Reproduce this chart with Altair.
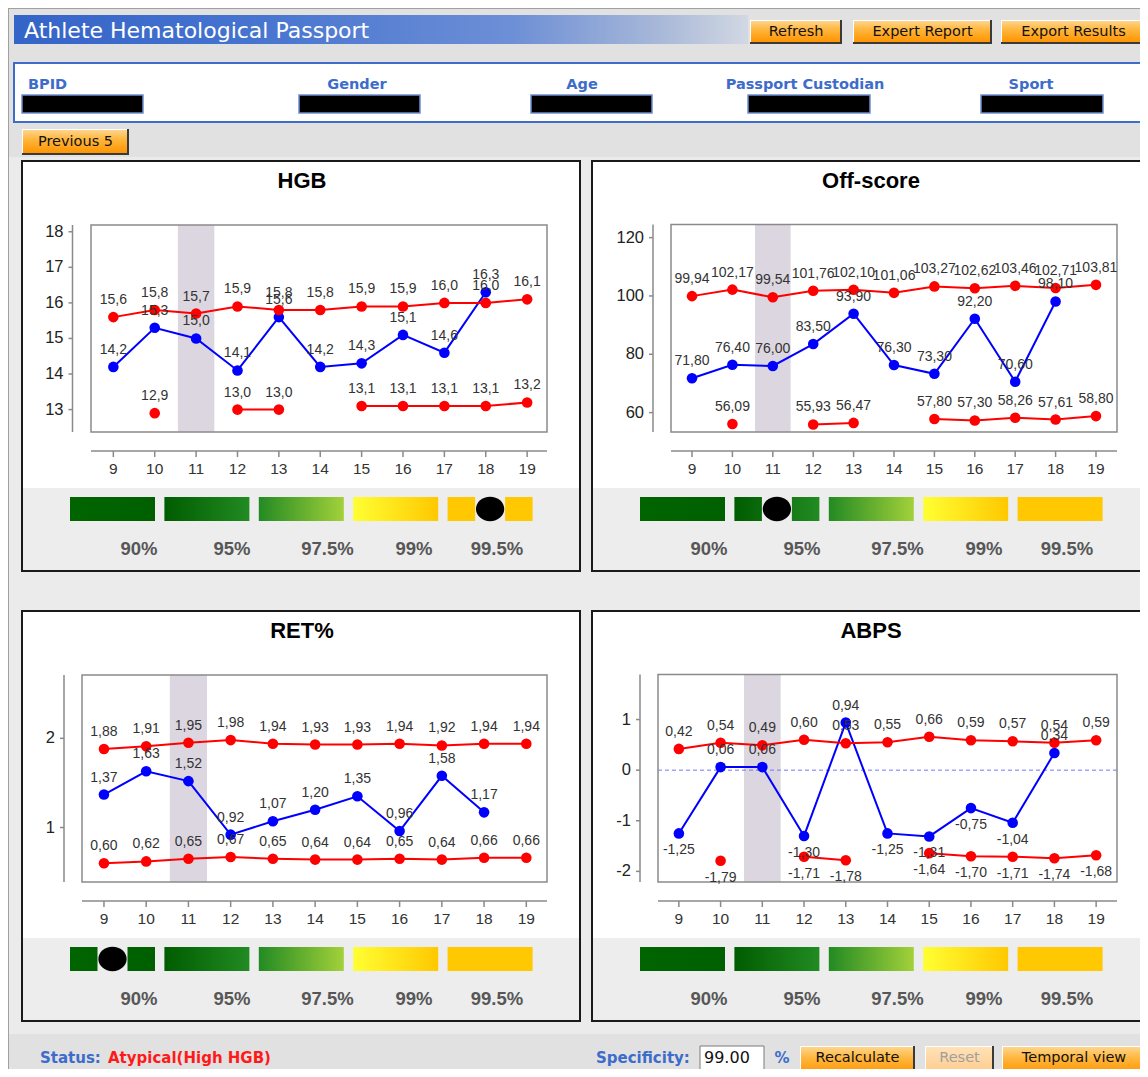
import altair as alt
import pandas as pd

# ---------------- chart values ----------------
tests = [9, 10, 11, 12, 13, 14, 15, 16, 17, 18, 19]
highlighted_test = 11

hgb_upper = [15.6, 15.8, 15.7, 15.9, 15.8, 15.8, 15.9, 15.9, 16.0, 16.0, 16.1]
hgb_values = [14.2, 15.3, 15.0, 14.1, 15.6, 14.2, 14.3, 15.1, 14.6, 16.3, None]
hgb_lower = [None, 12.9, None, 13.0, 13.0, None, 13.1, 13.1, 13.1, 13.1, 13.2]
hgb_yticks = [13, 14, 15, 16, 17, 18]

off_upper = [99.94, 102.17, 99.54, 101.76, 102.10, 101.06, 103.27, 102.62, 103.46, 102.71, 103.81]
off_values = [71.80, 76.40, 76.00, 83.50, 93.90, 76.30, 73.30, 92.20, 70.60, 98.10, None]
off_lower = [None, 56.09, None, 55.93, 56.47, None, 57.80, 57.30, 58.26, 57.61, 58.80]
off_yticks = [60, 80, 100, 120]

ret_upper = [1.88, 1.91, 1.95, 1.98, 1.94, 1.93, 1.93, 1.94, 1.92, 1.94, 1.94]
ret_values = [1.37, 1.63, 1.52, 0.92, 1.07, 1.20, 1.35, 0.96, 1.58, 1.17, None]
ret_lower = [0.60, 0.62, 0.65, 0.67, 0.65, 0.64, 0.64, 0.65, 0.64, 0.66, 0.66]
ret_yticks = [1, 2]

abps_upper = [0.42, 0.54, 0.49, 0.60, 0.53, 0.55, 0.66, 0.59, 0.57, 0.54, 0.59]
abps_values = [-1.25, 0.06, 0.06, -1.30, 0.94, -1.25, -1.31, -0.75, -1.04, 0.34, None]
abps_lower = [None, -1.79, None, -1.71, -1.78, None, -1.64, -1.70, -1.71, -1.74, -1.68]
abps_yticks = [-2, -1, 0, 1]

specificity_levels = ["90%", "95%", "97.5%", "99%", "99.5%"]
panel_titles = ["HGB", "Off-score", "RET%", "ABPS"]
panel_markers = ["99.5%", "95%", "90%", None]

page_title = "Athlete Hematological Passport"
header_buttons = ["Refresh", "Expert Report", "Export Results"]
info_fields = ["BPID", "Gender", "Age", "Passport Custodian", "Sport"]
prev_button = "Previous 5"
status_label = "Status:"
status_value = "Atypical(High HGB)"
specificity_label = "Specificity:"
specificity_value = "99.00"
footer_buttons = ["Recalculate", "Reset", "Temporal view"]

# ---------------- layout / style ----------------
M = 8
W, H = 1132, 1061


def cx(v):
    return v - M


def cy(v):
    return v - M


CHART_FONT = "Liberation Sans, Arial, sans-serif"
UI_FONT = "DejaVu Sans, Verdana, sans-serif"
RED = "#ff0000"
BLUE = "#0000ff"
UI_BLUE = "#3d6ccb"
AXIS = "#8a8a8a"
BAND = "#dcd6e0"

PANELS = [
    dict(title=panel_titles[0], upper=hgb_upper, values=hgb_values, lower=hgb_lower, yticks=hgb_yticks,
         dec=1, frame=(22, 161, 580, 571), box=(91, 225, 547, 432), yaxis_x=72.5,
         xdom=[8.46, 19.48], ydom=[12.37, 18.19], cb_x0=70, zero=False, marker=panel_markers[0]),
    dict(title=panel_titles[1], upper=off_upper, values=off_values, lower=off_lower, yticks=off_yticks,
         dec=2, frame=(592, 161, 1152, 571), box=(671, 224.5, 1117, 432), yaxis_x=653,
         xdom=[8.48, 19.52], ydom=[53.35, 124.5], cb_x0=640, zero=False, marker=panel_markers[1]),
    dict(title=panel_titles[2], upper=ret_upper, values=ret_values, lower=ret_lower, yticks=ret_yticks,
         dec=2, frame=(22, 611, 580, 1021), box=(82, 675, 547, 882), yaxis_x=64,
         xdom=[8.48, 19.49], ydom=[0.389, 2.71], cb_x0=70, zero=False, marker=panel_markers[2]),
    dict(title=panel_titles[3], upper=abps_upper, values=abps_values, lower=abps_lower, yticks=abps_yticks,
         dec=2, frame=(592, 611, 1152, 1021), box=(658, 674.5, 1117, 882), yaxis_x=640,
         xdom=[8.5, 19.5], ydom=[-2.21, 1.89], cb_x0=640, zero=True, marker=panel_markers[3]),
]
CB_STRIDE = 94.4
CB_W = 85
CB_LABEL_DX = [69, 162, 257.5, 344, 427]
FOOT_Y = 1058
FOOT_TOP = 1046

bg_rects = []
top_rects = []
grad_rects = {}
texts = {}


def add_rect(lst, x0, y0, x1, y1, fill, stroke="transparent", sw=0):
    lst.append(dict(x=cx(x0), x2=cx(x1), y=cy(y0), y2=cy(y1), fill=fill, stroke=stroke, sw=sw))


def add_grad(key, x0, y0, x1, y1):
    grad_rects.setdefault(key, []).append(dict(x=cx(x0), x2=cx(x1), y=cy(y0), y2=cy(y1)))


def add_text(key, x, y, text, color, size):
    texts.setdefault(key, []).append(dict(x=cx(x), y=cy(y), text=text, color=color, size=size))


def add_button(x0, y0, x1, y1, label, enabled=True, ty=None):
    add_rect(bg_rects, x0, y0, x1, y1, "#3a3a3a")
    add_rect(bg_rects, x0, y0, x1 - 2, y1 - 2, "#ffffff")
    add_grad("btn" if enabled else "btn_off", x0 + 1, y0 + 1, x1 - 2, y1 - 2)
    add_text("ui", (x0 + x1) / 2, ty if ty is not None else (y0 + y1) / 2, label,
             "#111111" if enabled else "#a0a0a0", 14.5)


# page frame + regions
add_rect(bg_rects, 8, 8, 1148, 9, "#a0a0a0")
add_rect(bg_rects, 8, 8, 9, 1077, "#a0a0a0")
add_rect(bg_rects, 9, 157, 1148, 1034, "#ebebeb")

# header
add_grad("title", 14, 15, 748, 44)
add_text("ui_left", 24, 30.5, page_title, "#ffffff", 22)
for (x0, x1), lab in zip([(750, 842), (853, 992), (1001, 1146)], header_buttons):
    add_button(x0, 20, x1, 44, lab)

add_rect(bg_rects, 14, 63, 1145, 122, "#ffffff", UI_BLUE, 2)
info_label_x = [28, 357, 582, 805, 1031]
info_box_x = [(22, 143), (299, 420), (531, 652), (748, 870), (981, 1103)]
for i, (f, lx, (b0, b1)) in enumerate(zip(info_fields, info_label_x, info_box_x)):
    add_text("ui_bold_left" if i == 0 else "ui_bold", lx, 85, f, UI_BLUE, 14.5)
    add_rect(bg_rects, b0, 95, b1, 113, "#000000", "#6d8fd0", 1.5)

add_button(22, 129, 129, 155, prev_button)

# footer
add_text("ui_bold_left", 40, FOOT_Y, status_label, UI_BLUE, 15)
add_text("ui_bold_left", 108, FOOT_Y, status_value, "#ff1a1a", 15)
add_text("ui_bold_left", 596, FOOT_Y, specificity_label, UI_BLUE, 15)
add_rect(bg_rects, 700, FOOT_TOP, 764, FOOT_TOP + 30, "#ffffff", "#7a7a7a", 1)
add_text("ui_left", 704, FOOT_Y, specificity_value, "#111111", 16)
add_text("ui_bold", 782, FOOT_Y, "%", UI_BLUE, 15)
for (x0, x1), lab, en in zip([(800, 915), (925, 994), (1002, 1146)], footer_buttons, [True, False, True]):
    add_button(x0, FOOT_TOP, x1, FOOT_TOP + 30, lab, en, ty=FOOT_Y)

# panels: frames, bands, plot boxes, colour bars, titles
ELLIPSE = "M-1,0A1,0.86,0,1,1,1,0A1,0.86,0,1,1,-1,0Z"
markers = []
for p in PANELS:
    fx0, fy0, fx1, fy1 = p["frame"]
    add_rect(bg_rects, fx0, fy0, fx1, fy1, "#ffffff", "#1a1a1a", 2)
    add_rect(bg_rects, fx0 + 1, fy0 + 327, fx1 - 1, fy1 - 1, "#ededed")
    bx0, by0, bx1, by1 = p["box"]
    add_rect(bg_rects, bx0, by0, bx1, by1, "#ffffff")
    add_text("chart_bold", (fx0 + min(fx1, 1148)) / 2 + 1, fy0 + 19.5, p["title"], "#000000", 22)
    for k, lev in enumerate(specificity_levels):
        x0 = p["cb_x0"] + k * CB_STRIDE
        add_grad(f"cb{k}", x0, fy0 + 336, x0 + CB_W, fy0 + 360)
        add_text("chart_bold", p["cb_x0"] + CB_LABEL_DX[k], fy0 + 388, lev, "#575757", 18.5)
        if p["marker"] == lev:
            mx = x0 + CB_W / 2
            add_rect(top_rects, mx - 15, fy0 + 336, mx + 15, fy0 + 360, "#ededed")
            markers.append(dict(x=cx(mx), y=cy(fy0 + 348)))


def grad(stops, horizontal=True):
    return alt.LinearGradient(
        gradient="linear",
        stops=[alt.GradientStop(offset=o, color=c) for o, c in stops],
        x1=0, y1=0, x2=1 if horizontal else 0, y2=0 if horizontal else 1,
    )


GRADS = {
    "title": grad([(0, "#3564c8"), (0.3, "#4472cf"), (0.68, "#6d8fd6"), (0.88, "#a8b8d8"), (1, "#d2d8e3")]),
    "btn": grad([(0, "#ffd58c"), (0.4, "#ffb73f"), (1, "#ff9400")], horizontal=False),
    "btn_off": grad([(0, "#ffe2b8"), (1, "#ffc98a")], horizontal=False),
    "cb0": grad([(0, "#006400"), (1, "#006000")]),
    "cb1": grad([(0, "#005c00"), (1, "#228b22")]),
    "cb2": grad([(0, "#238a23"), (1, "#a2d13a")]),
    "cb3": grad([(0, "#ffff33"), (1, "#ffc800")]),
    "cb4": grad([(0, "#ffc800"), (1, "#ffc800")]),
}

TEXT_STYLES = {
    "ui": dict(font=UI_FONT, fontWeight="normal", align="center"),
    "ui_left": dict(font=UI_FONT, fontWeight="normal", align="left"),
    "ui_bold": dict(font=UI_FONT, fontWeight="bold", align="center"),
    "ui_bold_left": dict(font=UI_FONT, fontWeight="bold", align="left"),
    "chart_bold": dict(font=CHART_FONT, fontWeight="bold", align="center"),
}


def pxX(f):
    return alt.X(f, scale=None, axis=None)


def pxY(f):
    return alt.Y(f, scale=None, axis=None)


def rect_layer(lst):
    return alt.Chart(pd.DataFrame(lst)).mark_rect().encode(
        x=pxX("x:Q"), x2="x2:Q", y=pxY("y:Q"), y2="y2:Q",
        fill=alt.Fill("fill:N", scale=None), stroke=alt.Stroke("stroke:N", scale=None),
        strokeWidth=alt.StrokeWidth("sw:Q", scale=None),
    )


def grad_layer(key):
    return alt.Chart(pd.DataFrame(grad_rects[key])).mark_rect(fill=GRADS[key]).encode(
        x=pxX("x:Q"), x2="x2:Q", y=pxY("y:Q"), y2="y2:Q")


def text_layer(key):
    return alt.Chart(pd.DataFrame(texts[key])).mark_text(baseline="middle", **TEXT_STYLES[key]).encode(
        x=pxX("x:Q"), y=pxY("y:Q"), text="text:N",
        color=alt.Color("color:N", scale=None), size=alt.Size("size:Q", scale=None))


def fmt(v, dec):
    return f"{v:.{dec}f}".replace(".", ",")


def panel_layer(p):
    bx0, by0, bx1, by1 = p["box"]
    xs = alt.Scale(domain=p["xdom"], range=[cx(bx0), cx(bx1)], nice=False, zero=False)
    ys = alt.Scale(domain=p["ydom"], range=[cy(by1), cy(by0)], nice=False, zero=False)

    def X(f):
        return alt.X(f, scale=xs, axis=None)

    def Y(f):
        return alt.Y(f, scale=ys, axis=None)

    one = pd.DataFrame({"k": [0]})
    band = pd.DataFrame({"t0": [highlighted_test - 0.44], "t1": [highlighted_test + 0.44]})
    rows = []
    for name, vals, col in (("value", p["values"], BLUE), ("upper", p["upper"], RED), ("lower", p["lower"], RED)):
        seg = 0
        for t, v in zip(tests, vals):
            if v is None:
                seg += 1
                continue
            rows.append(dict(t=t, v=v, series=name, col=col, seg=f"{name}-{seg}",
                             label=fmt(v, p["dec"]), side="below" if v < 0 else "above"))
    df = pd.DataFrame(rows)

    layers = [
        alt.Chart(band).mark_rect(color=BAND).encode(
            x=X("t0:Q"), x2="t1:Q", y=alt.value(cy(by0)), y2=alt.value(cy(by1))),
    ]
    if p["zero"]:
        layers.append(alt.Chart(pd.DataFrame({"z": [0]})).mark_rule(
            color="#7474ff", strokeDash=[4, 3], strokeWidth=1).encode(
            y=Y("z:Q"), x=alt.value(cx(bx0)), x2=alt.value(cx(bx1))))
    layers.append(alt.Chart(one).mark_rect(fillOpacity=0, stroke=AXIS, strokeWidth=1.5).encode(
        x=alt.value(cx(bx0)), x2=alt.value(cx(bx1)), y=alt.value(cy(by0)), y2=alt.value(cy(by1))))

    for sub in (df[df.series == "value"], df[df.series != "value"]):
        layers.append(alt.Chart(sub).mark_line(strokeWidth=2).encode(
            x=X("t:Q"), y=Y("v:Q"), detail="seg:N", color=alt.Color("col:N", scale=None)))
        layers.append(alt.Chart(sub).mark_circle(size=112, opacity=1).encode(
            x=X("t:Q"), y=Y("v:Q"), color=alt.Color("col:N", scale=None)))

    for side, dy in (("above", -17), ("below", 17)):
        sub = df[df.side == side]
        if len(sub):
            layers.append(alt.Chart(sub).mark_text(
                dy=dy, font=CHART_FONT, fontSize=14, color="#333333", baseline="middle").encode(
                x=X("t:Q"), y=Y("v:Q"), text="label:N"))

    # y axis
    ax = p["yaxis_x"]
    yt = pd.DataFrame({"v": p["yticks"], "label": [str(v) for v in p["yticks"]]})
    layers.append(alt.Chart(one).mark_rule(color=AXIS, strokeWidth=1.5).encode(
        x=alt.value(cx(ax)), y=alt.value(cy(by0)), y2=alt.value(cy(by1))))
    layers.append(alt.Chart(yt).mark_rule(color=AXIS, strokeWidth=1.5).encode(
        x=alt.value(cx(ax - 4)), x2=alt.value(cx(ax)), y=Y("v:Q")))
    layers.append(alt.Chart(yt).mark_text(
        align="right", baseline="middle", font=CHART_FONT, fontSize=16.5, color="#222222").encode(
        x=alt.value(cx(ax - 9)), y=Y("v:Q"), text="label:N"))

    # x axis
    xa = by1 + 19
    xt = pd.DataFrame({"t": tests, "label": [str(t) for t in tests]})
    layers.append(alt.Chart(one).mark_rule(color=AXIS, strokeWidth=1.5).encode(
        x=alt.value(cx(bx0)), x2=alt.value(cx(bx1)), y=alt.value(cy(xa))))
    layers.append(alt.Chart(xt).mark_rule(color=AXIS, strokeWidth=1.5).encode(
        x=X("t:Q"), y=alt.value(cy(xa)), y2=alt.value(cy(xa + 6))))
    layers.append(alt.Chart(xt).mark_text(
        baseline="middle", font=CHART_FONT, fontSize=15.5, color="#333333").encode(
        x=X("t:Q"), y=alt.value(cy(xa + 17.5)), text="label:N"))
    return alt.layer(*layers)


all_layers = [rect_layer(bg_rects)]
all_layers += [grad_layer(k) for k in grad_rects]
all_layers.append(rect_layer(top_rects))
all_layers.append(alt.Chart(pd.DataFrame(markers)).mark_point(
    shape=ELLIPSE, filled=True, color="#000000", size=800, opacity=1).encode(x=pxX("x:Q"), y=pxY("y:Q")))
all_layers += [text_layer(k) for k in texts]
all_layers += [panel_layer(p) for p in PANELS]

chart = (
    alt.layer(*all_layers)
    .resolve_scale(x="independent", y="independent")
    .properties(width=W, height=H, padding=0, background="#e1e1e1",
                autosize=alt.AutoSizeParams(type="none"))
    .configure_view(strokeWidth=0)
)

chart.save("out.html", embed_options={"renderer": "svg", "actions": False})
